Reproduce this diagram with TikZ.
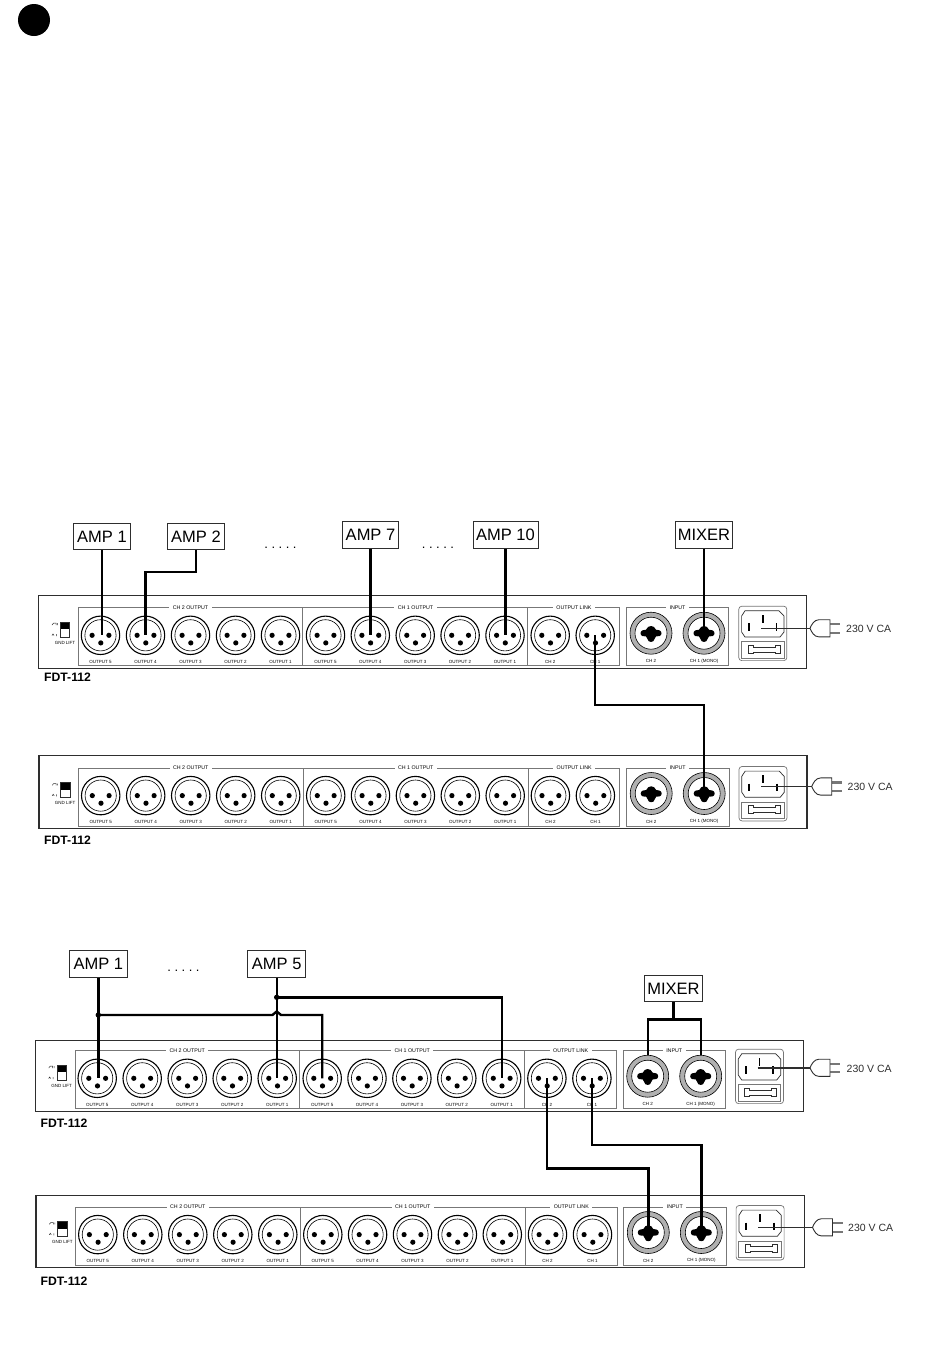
\documentclass[tikz,border=0pt]{standalone}
\usepackage{fontspec}
\setmainfont{Liberation Sans}
\usetikzlibrary{calc}
\definecolor{frameg}{HTML}{777777}
\definecolor{panelk}{HTML}{2E2E2E}
\definecolor{ringg}{HTML}{B0B0B0}
\tikzset{
  wire/.style={line width=2.4pt,black,line join=miter},
  mainsw/.style={line width=1.4pt,panelk},
  boxnode/.style={draw=panelk,line width=0.9pt,fill=white,inner sep=0pt,minimum height=26.5pt,font=\fontsize{16.5}{18}\selectfont},
  tiny/.style={text=black,inner sep=0pt,font=\fontsize{4.5}{5}\selectfont},
  ttl/.style={text=black,inner sep=0pt,fill=white,inner xsep=3.5pt,inner ysep=1pt,font=\fontsize{5.3}{6}\selectfont},
  fdt/.style={inner sep=0pt,anchor=west,font=\bfseries\fontsize{12.2}{14}\selectfont},
  volt/.style={inner sep=0pt,anchor=west,text=panelk,font=\fontsize{10.5}{12}\selectfont},
  dotsn/.style={inner sep=0pt,font=\fontsize{13}{16}\selectfont},
  frm/.style={draw=frameg,line width=0.7pt},
}
\newcommand\fivedots{.\kern3.5pt.\kern3.5pt.\kern3.5pt.\kern3.5pt.}
% XLR connector: name, x, y, label
\newcommand\xlrconn[4]{%
  \coordinate (#1) at (#2,#3);
  \draw[black,line width=1.1pt,fill=white] (#2,#3) circle[radius=19.2];
  \draw[black,line width=0.6pt] (#2,#3) circle[radius=15.6];
  \fill[black] (#2-8.4,#3) circle[radius=2.6];
  \fill[black] (#2+8.4,#3) circle[radius=2.6];
  \fill[black] ($(#2,#3)+(0.3,7.6)$) circle[radius=2.6];
  \node[tiny] at (#2,#3+26.8) {#4};
}
% combo connector
\newcommand\comboconn[4]{%
  \coordinate (#1) at (#2,#3);
  \draw[black,line width=0.6pt,fill=ringg] (#2,#3) circle[radius=21];
  \draw[black,line width=0.6pt,fill=white] (#2,#3) circle[radius=16];
  \begin{scope}[shift={(#2,#3)}]
    \fill[black] (-10.5,0) .. controls (-10.5,-3) and (-7,-3.5) .. (-5,-3.5)
      .. controls (-4,-6) and (-2,-7.2) .. (0,-7.2)
      .. controls (2,-7.2) and (4,-6) .. (5,-3.5)
      .. controls (7,-3.5) and (10.5,-3) .. (10.5,0)
      .. controls (10.5,3) and (7,3.6) .. (5,3.2)
      .. controls (4.6,4.6) and (3.6,5.2) .. (3.4,6)
      .. controls (3.2,9.6) and (-3.2,9.6) .. (-3.4,6)
      .. controls (-3.6,5.2) and (-4.6,4.6) .. (-5,3.2)
      .. controls (-7,3.6) and (-10.5,3) .. (-10.5,0) -- cycle;
  \end{scope}
  \node[tiny] at (#2,#3+28) {#4};
}
% rack: name, dx, dy, top of outer panel (relative)
\newcommand\rackunit[4]{%
\begin{scope}[shift={(#2,#3)}]
  \draw[panelk,line width=1.2pt] (38.7,#4) rectangle (806.8,668.2);
  \draw[frm] (78.3,607.7) rectangle (302.7,665.8);
  \draw[frm] (302.7,607.7) rectangle (527.8,665.8);
  \draw[frm] (527.8,607.7) rectangle (619.6,665.8);
  \draw[frm] (626.3,607.7) rectangle (728.8,665.8);
  \node[ttl] at (190.5,607.7) {CH 2 OUTPUT};
  \node[ttl] at (415.5,607.7) {CH 1 OUTPUT};
  \node[ttl] at (574,607.7) {OUTPUT LINK};
  \node[ttl] at (677.5,607.7) {INPUT};
  \xlrconn{#1a5}{100.5}{635.3}{OUTPUT 5}
  \xlrconn{#1a4}{145.5}{635.3}{OUTPUT 4}
  \xlrconn{#1a3}{190.5}{635.3}{OUTPUT 3}
  \xlrconn{#1a2}{235.5}{635.3}{OUTPUT 2}
  \xlrconn{#1a1}{280.5}{635.3}{OUTPUT 1}
  \xlrconn{#1b5}{325.5}{635.3}{OUTPUT 5}
  \xlrconn{#1b4}{370.3}{635.3}{OUTPUT 4}
  \xlrconn{#1b3}{415.2}{635.3}{OUTPUT 3}
  \xlrconn{#1b2}{460.1}{635.3}{OUTPUT 2}
  \xlrconn{#1b1}{505}{635.3}{OUTPUT 1}
  \xlrconn{#1l2}{550.2}{635.3}{CH 2}
  \xlrconn{#1l1}{595.2}{635.3}{CH 1}
  \comboconn{#1i2}{651}{633.2}{CH 2}
  \comboconn{#1i1}{704}{633.2}{CH 1 (MONO)}
  % switch
  \fill[black] (60.4,622.2) rectangle (69.6,629.2);
  \draw[panelk,line width=0.6pt] (60.4,622.2) rectangle (69.6,636.8);
  \draw[panelk,line width=0.5pt] (52,625) -- (53.5,623.2) -- (56,623.2) -- (56,625) (57.5,623.2) -- (57.5,625);
  \draw[panelk,line width=0.5pt] (52,635.5) -- (53,634) -- (54,635.5) (56.5,634) -- (56.5,636);
  \node[tiny] at (65,642.5) {GND LIFT};
  % mains socket
  \draw[frameg,line width=0.7pt,rounded corners=3pt] (738.8,606.2) rectangle (786.8,660.6);
  \draw[panelk,line width=0.7pt,fill=white] (745,610.8) -- (779,610.8) -- (784,616) -- (784,632) -- (780,637) -- (745,637) -- (741.6,632) -- (741.6,616) -- cycle;
  \draw[black,line width=1.7pt] (749,623.2) -- (749,631);
  \draw[black,line width=1.7pt] (762.8,615) -- (762.8,623);
  \draw[black,line width=1.7pt] (776.6,623.2) -- (776.6,631);
  \draw[frameg,line width=0.7pt] (741.4,641.6) rectangle (784,658);
  \draw[panelk,line width=0.5pt] (748,645.2) -- (753,645.2) -- (753,647) -- (775,647) -- (775,645.2) -- (780,645.2) -- (780,653.4) -- (775,653.4) -- (775,651.8) -- (753,651.8) -- (753,653.4) -- (748,653.4) -- cycle;
  \coordinate (#1s) at (761,628.3);
\end{scope}
}
% mains plug: name, x, y
\newcommand\mainsplug[3]{%
  \coordinate (#1) at (#2,#3);
  \fill[frameg] (#2+20,#3-5.2) rectangle (#2+30,#3-3);
  \fill[frameg] (#2+20,#3+3.4) rectangle (#2+30,#3+5.6);
  \draw[panelk,line width=0.9pt,fill=white] (#2+9,#3-8.6) -- (#2+20,#3-8.6) -- (#2+20,#3+8.6) -- (#2+9,#3+8.6)
     .. controls (#2+4,#3+8.6) and (#2+1.5,#3+3.5) .. (#2,#3)
     .. controls (#2+1.5,#3-3.5) and (#2+4,#3-8.6) .. (#2+9,#3-8.6) -- cycle;
}
\begin{document}
\begin{tikzpicture}[x=1pt,y=-1pt]
\useasboundingbox (0,0) rectangle (950,1369);
\fill[white] (0,0) rectangle (950,1369);
\fill[black] (34,20) circle[radius=16];

\rackunit{A}{0}{0}{595.7}
\rackunit{B}{0.2}{160.3}{595.2}
\rackunit{C}{-3.3}{443}{597.7}
\rackunit{D}{-2.7}{599.3}{596.4}

\node[fdt] (fa) at (44,677.3) {FDT-112};
\node[fdt] (fb) at (44,840) {FDT-112};
\node[fdt] (fc) at (40.5,1123.3) {FDT-112};
\node[fdt] (fd) at (40.5,1281.3) {FDT-112};

\node[boxnode,minimum width=57.5pt] (amp1) at (102,536.5) {AMP 1};
\node[boxnode,minimum width=56.5pt] (amp2) at (196,536.5) {AMP 2};
\node[boxnode,minimum width=56.5pt] (amp7) at (370.5,535) {AMP 7};
\node[boxnode,minimum width=65pt] (amp10) at (505.5,535) {AMP 10};
\node[boxnode,minimum width=56.5pt] (mix1) at (704,535) {MIXER};
\node[dotsn] (d1) at (280.5,547.5) {\fivedots};
\node[dotsn] (d2) at (438,547.5) {\fivedots};

\node[boxnode,minimum width=58pt] (amp1b) at (98.3,964) {AMP 1};
\node[boxnode,minimum width=58pt] (amp5b) at (276.7,964) {AMP 5};
\node[boxnode,minimum width=58.5pt] (mix2) at (673.5,988.5) {MIXER};
\node[dotsn] (d3) at (183.5,971) {\fivedots};

\draw[wire] (amp1.south) -- (amp1.south |- Aa5);
\draw[wire] (amp2.south) -- ++(0,21.5) -| (Aa4);
\draw[wire] (amp7.south) -- (amp7.south |- Ab4);
\draw[wire] (amp10.south) -- (amp10.south |- Ab1);
\draw[wire] (mix1.south) -- (Ai1);
\coordinate (ja) at (595.7,705);
\draw[wire] (Al1) -- (Al1 |- ja) -- (ja -| Bi1) -- (Bi1);

\coordinate (busy) at (0,1015);
\coordinate (bry) at (0,997.3);
\draw[wire] (amp1b.south) -- (amp1b.south |- Ca5);
\draw[wire] (amp5b.south) -- (amp5b.south |- Ca1);
\draw[wire] (amp1b.south |- busy) -- (272.5,1015) .. controls (274,1015) and (275,1011.5) .. (276.7,1011.5) .. controls (278.4,1011.5) and (279.4,1015) .. (281,1015) -- (Cb5 |- busy) -- (Cb5);
\draw[wire] (amp5b.south |- bry) -- (Cb1 |- bry) -- (Cb1);
\fill[black] (amp1b.south |- busy) circle[radius=2.7];
\fill[black] (amp5b.south |- bry) circle[radius=2.7];
\coordinate (mj) at (673.7,1019.3);
\draw[wire] (mix2.south) -- (mix2.south |- mj);
\draw[wire] (Ci2 |- 0,1055) -- (Ci2 |- mj) -- (Ci1 |- mj) -- (Ci1 |- 0,1055);
\coordinate (jb) at (0,1168.3);
\coordinate (jc) at (0,1144.7);
\draw[wire] (Cl2) -- (Cl2 |- jb) -- (Di2 |- jb) -- (Di2);
\draw[wire] (Cl1) -- (Cl1 |- jc) -- (Di1 |- jc) -- (Di1);

\mainsplug{pa}{810}{628.3}
\mainsplug{pb}{811.7}{786.5}
\mainsplug{pc}{810}{1067.8}
\mainsplug{pd}{812.5}{1227.3}
\draw[mainsw] (As) -- (pa);
\draw[mainsw] (Bs |- pb) -- (pb);
\draw[mainsw] (Cs |- pc) -- (pc);
\draw[mainsw] (Ds |- pd) -- (pd);
\node[volt] (va) at (846,628.5) {230 V CA};
\node[volt] (vb) at (847.5,786.5) {230 V CA};
\node[volt] (vc) at (846.5,1068.5) {230 V CA};
\node[volt] (vd) at (848,1228) {230 V CA};
\end{tikzpicture}
\end{document}
